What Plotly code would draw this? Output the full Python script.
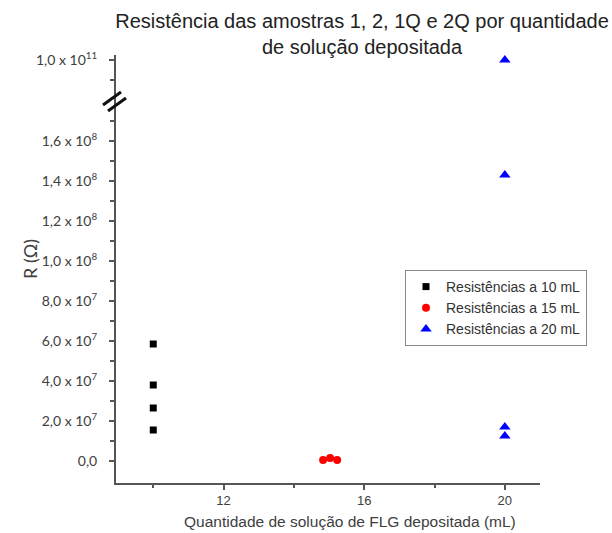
import plotly.graph_objects as go

# ---- data ----
x10 = [10, 10, 10, 10]
r10 = [5.85e7, 3.8e7, 2.65e7, 1.55e7]
x15 = [14.83, 15.03, 15.23]
r15 = [5e5, 1.5e6, 5e5]
x20 = [20, 20, 20, 20]
r20 = [1.0e11, 1.43e8, 1.7e7, 1.25e7]

names = ["Resistências a 10 mL", "Resistências a 15 mL", "Resistências a 20 mL"]

low_ticks = [0, 2e7, 4e7, 6e7, 8e7, 1e8, 1.2e8, 1.4e8, 1.6e8]
low_text = ["0,0", "2,0 x 10<sup>7</sup>", "4,0 x 10<sup>7</sup>", "6,0 x 10<sup>7</sup>",
            "8,0 x 10<sup>7</sup>", "1,0 x 10<sup>8</sup>", "1,2 x 10<sup>8</sup>",
            "1,4 x 10<sup>8</sup>", "1,6 x 10<sup>8</sup>"]
low_minor = [1e7, 3e7, 5e7, 7e7, 9e7, 1.1e8, 1.3e8, 1.5e8, 1.7e8]
up_ticks = [1e11]
up_text = ["1,0 x 10<sup>11</sup>"]
up_minor = [0.98e11]
x_ticks = [12, 16, 20]
x_minor = [10, 14, 18]

BREAK = 1e10

# pixel geometry
W, H = 612, 533
L, R, T, B = 116, 72, 55, 50
ph = H - T - B
pw = W - L - R
brk_px = 97
split = (H - B - brk_px) / ph


def px2x(px):
    return (px - L) / pw


def px2y(py):
    return (H - B - py) / ph


fig = go.Figure()

series = [
    (x10, r10, names[0], "square", "black", 7),
    (x15, r15, names[1], "circle", "red", 8),
    (x20, r20, names[2], "triangle-up", "blue", 10),
]
for xs, ys, nm, sym, col, sz in series:
    lx = [a for a, b in zip(xs, ys) if b < BREAK]
    ly = [b for b in ys if b < BREAK]
    ux = [a for a, b in zip(xs, ys) if b >= BREAK]
    uy = [b for b in ys if b >= BREAK]
    fig.add_trace(go.Scatter(x=lx, y=ly, mode="markers", name=nm, legendgroup=nm,
                             marker=dict(symbol=sym, color=col, size=sz),
                             xaxis="x", yaxis="y"))
    if ux:
        fig.add_trace(go.Scatter(x=ux, y=uy, mode="markers", name=nm, legendgroup=nm,
                                 showlegend=False,
                                 marker=dict(symbol=sym, color=col, size=sz),
                                 xaxis="x", yaxis="y2"))

tickfont = dict(family="Lato, Liberation Sans, sans-serif", size=14, color="#404040")
axcol = "#555555"

fig.update_layout(
    width=W, height=H,
    margin=dict(l=L, r=R, t=T, b=B),
    plot_bgcolor="white", paper_bgcolor="white",
    title=dict(text="Resistência das amostras 1, 2, 1Q e 2Q por quantidade<br>de solução depositada",
               x=362 / W, xanchor="center", y=1 - 28 / H, yanchor="middle",
               font=dict(family="Liberation Sans, Arial, sans-serif", size=20, color="#222222")),
    xaxis=dict(range=[8.94, 21.0], tickvals=x_ticks, ticktext=[str(v) for v in x_ticks],
               ticks="outside", ticklen=5, tickwidth=1.5, tickcolor=axcol,
               minor=dict(tickvals=x_minor, ticks="outside", ticklen=3, tickcolor=axcol, tickwidth=1.5),
               showline=True, linecolor=axcol, linewidth=1.5, showgrid=False, zeroline=False,
               tickfont=dict(family="Liberation Sans, Arial, sans-serif", size=13, color="#404040"),
               anchor="y"),
    yaxis=dict(domain=[0, split], range=[-1.1e7, -1.1e7 + (H - B - brk_px) / 2 * 1e6],
               tickvals=low_ticks, ticktext=low_text,
               ticks="outside", ticklen=5, tickwidth=1.5, tickcolor=axcol,
               minor=dict(tickvals=low_minor, ticks="outside", ticklen=4, tickcolor=axcol, tickwidth=1.5),
               showline=True, linecolor=axcol, linewidth=2, showgrid=False, zeroline=False,
               tickfont=tickfont, anchor="x", ticklabelstandoff=9),
    yaxis2=dict(domain=[split, 1], range=[0.963e11, 1.005e11],
                tickvals=up_ticks, ticktext=up_text,
                ticks="outside", ticklen=5, tickwidth=1.5, tickcolor=axcol,
                minor=dict(tickvals=up_minor, ticks="outside", ticklen=4, tickcolor=axcol, tickwidth=1.5),
                showline=True, linecolor=axcol, linewidth=2, showgrid=False, zeroline=False,
                tickfont=tickfont, anchor="x", ticklabelstandoff=9),
    legend=dict(x=px2x(405), y=px2y(270), xanchor="left", yanchor="top",
                bgcolor="white", bordercolor="#888888", borderwidth=1,
                font=dict(family="Liberation Sans, Arial, sans-serif", size=14, color="#333333"),
                tracegroupgap=0),
    showlegend=True,
)

# axis break marks
for (x0, y0, x1, y1) in [(103, 105, 121, 92), (108, 111, 126, 98)]:
    fig.add_shape(type="line", xref="paper", yref="paper",
                  x0=px2x(x0), y0=px2y(y0), x1=px2x(x1), y1=px2y(y1),
                  line=dict(color="#111111", width=3))

# axis titles
fig.add_annotation(text="R (Ω)", xref="paper", yref="paper", x=px2x(30), y=px2y(259),
                   textangle=-90, showarrow=False, xanchor="center", yanchor="middle",
                   font=dict(family="Lato, Liberation Sans, sans-serif", size=18, color="#404040"))
fig.add_annotation(text="Quantidade de solução de FLG depositada (mL)", xref="paper", yref="paper",
                   x=px2x(350), y=px2y(521), showarrow=False, xanchor="center", yanchor="middle",
                   font=dict(family="Liberation Sans, Arial, sans-serif", size=15.5, color="#404040"))

fig.write_html("out.html")
